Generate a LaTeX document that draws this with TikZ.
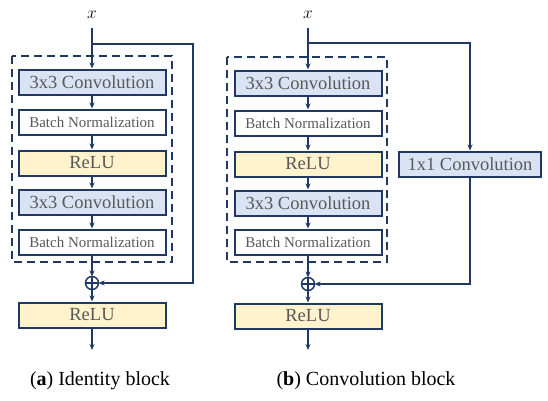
\documentclass[tikz,border=0pt]{standalone}
\usepackage{fontspec}
\setmainfont{Liberation Serif}
\usetikzlibrary{arrows.meta}
\definecolor{navy}{HTML}{203864}
\definecolor{convblue}{HTML}{DAE3F3}
\definecolor{reluyellow}{HTML}{FFF2CC}
\definecolor{txtgray}{HTML}{595959}

\begin{document}
\begin{tikzpicture}[x=1pt,y=1pt,
    layer/.style={draw=navy,line width=2pt,minimum width=147pt,minimum height=25pt,inner sep=0pt,text=txtgray,font=\fontsize{18.5}{18.5}\selectfont},
    conv/.style={layer,fill=convblue},
    bnorm/.style={layer,fill=white,font=\fontsize{15}{15}\selectfont},
    relu/.style={layer,fill=reluyellow},
    flow/.style={draw=navy,line width=1.5pt,-{Stealth[length=6pt,width=5pt]}},
    plus/.style={circle,draw=navy,line width=1.5pt,minimum size=13pt,inner sep=0pt,outer sep=0pt},
    frame/.style={draw=navy,line width=2.2pt,dash pattern=on 8pt off 5pt},
    caption/.style={font=\fontsize{20}{20}\selectfont}]
\useasboundingbox (0,0) rectangle (548,-400);
%
% (a) identity block
       \node [font=\fontsize{19}{19}\selectfont] at (92,-15) (x a) {$x$};
       \coordinate (in a) at (92,-28);
       \draw [frame] (12,-56) rectangle (172,-262);
          \node [conv] at (92,-82) (conv1 a) {3x3 Convolution};
          \node [bnorm] at (92,-122) (bn1 a) {Batch Normalization};
          \node [relu] at (92,-163) (relu1 a) {ReLU};
          \node [conv] at (92,-202) (conv2 a) {3x3 Convolution};
          \node [bnorm] at (92,-242) (bn2 a) {Batch Normalization};
       \node [plus] at (92,-283) (add a) {};
       \draw [navy,line width=1.2pt] (add a.north) -- (add a.south) (add a.west) -- (add a.east);
          \node [relu] at (92,-315) (relu2 a) {ReLU};
       \coordinate (out a) at (92,-350);
       \coordinate (skip a) at (92,-44);
       \coordinate (corner a) at (193,-44);
       \node [caption] at (100,-381) (cap a) {(\textbf{a}) Identity block};
%
% (b) convolution block
       \node [font=\fontsize{19}{19}\selectfont] at (308,-15) (x b) {$x$};
       \coordinate (in b) at (308,-28);
       \draw [frame] (227,-57) rectangle (387,-262);
          \node [conv] at (308,-83) (conv1 b) {3x3 Convolution};
          \node [bnorm] at (308,-123) (bn1 b) {Batch Normalization};
          \node [relu] at (308,-164) (relu1 b) {ReLU};
          \node [conv] at (308,-203) (conv2 b) {3x3 Convolution};
          \node [bnorm] at (308,-242) (bn2 b) {Batch Normalization};
          \node [conv,minimum width=142pt] at (470,-164) (short b) {1x1 Convolution};
       \node [plus] at (308,-284) (add b) {};
       \draw [navy,line width=1.2pt] (add b.north) -- (add b.south) (add b.west) -- (add b.east);
          \node [relu] at (308,-316) (relu2 b) {ReLU};
       \coordinate (out b) at (308,-350);
       \coordinate (skip b) at (308,-43);
       \node [caption] at (366,-381) (cap b) {(\textbf{b}) Convolution block};
%
\draw [flow] (in a) -- (conv1 a);
\draw [flow] (conv1 a) -- (bn1 a);
\draw [flow] (bn1 a) -- (relu1 a);
\draw [flow] (relu1 a) -- (conv2 a);
\draw [flow] (conv2 a) -- (bn2 a);
\draw [flow] (bn2 a) -- (add a);
\draw [flow] (add a) -- (relu2 a);
\draw [flow] (relu2 a) -- (out a);
\draw [flow] (skip a) -- (corner a) |- (add a);
%
\draw [flow] (in b) -- (conv1 b);
\draw [flow] (conv1 b) -- (bn1 b);
\draw [flow] (bn1 b) -- (relu1 b);
\draw [flow] (relu1 b) -- (conv2 b);
\draw [flow] (conv2 b) -- (bn2 b);
\draw [flow] (bn2 b) -- (add b);
\draw [flow] (add b) -- (relu2 b);
\draw [flow] (relu2 b) -- (out b);
\draw [flow] (skip b) -| (short b);
\draw [flow] (short b) |- (add b);

\end{tikzpicture}
\end{document}
